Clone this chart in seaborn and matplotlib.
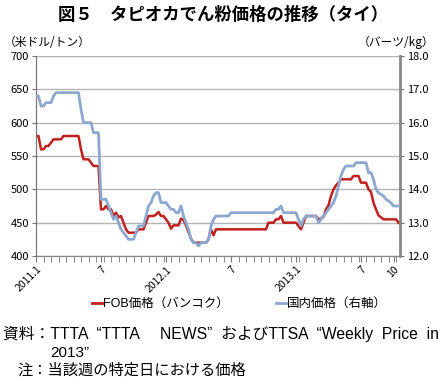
import pandas as pd
import seaborn as sns
import matplotlib.pyplot as plt

# weekly prices, Jan 2011 - Oct 2013
fob_usd = [580, 580, 560, 560, 565, 565, 570, 575, 575, 575,
           575, 580, 580, 580, 580, 580, 580, 580, 560, 545,
           545, 545, 540, 535, 535, 535, 470, 470, 475, 470,
           470, 460, 465, 458, 460, 450, 440, 435, 435, 435,
           435, 440, 440, 440, 450, 460, 460, 460, 462, 466,
           460, 460, 455, 450, 441, 446, 446, 446, 456, 454,
           446, 436, 426, 420, 420, 420, 420, 420, 420, 425,
           440, 431, 440, 440, 440, 440, 440, 440, 440, 440,
           440, 440, 440, 440, 440, 440, 440, 440, 440, 440,
           440, 440, 440, 450, 450, 450, 455, 455, 460, 450,
           450, 450, 450, 450, 450, 445, 440, 450, 460, 460,
           460, 460, 460, 455, 456, 459, 470, 476, 490, 500,
           506, 510, 515, 515, 515, 515, 515, 520, 520, 520,
           510, 510, 510, 500, 496, 480, 470, 461, 458, 455,
           455, 455, 455, 455, 455, 450]
domestic_thb = [16.8, 16.8, 16.5, 16.5, 16.6, 16.6, 16.6, 16.8, 16.9, 16.9,
                16.9, 16.9, 16.9, 16.9, 16.9, 16.9, 16.9, 16.9, 16.4, 16.0,
                16.0, 16.0, 16.0, 15.7, 15.7, 15.7, 13.7, 13.7, 13.7, 13.5,
                13.3, 13.1, 13.2, 13.0, 12.8, 12.7, 12.6, 12.5, 12.5, 12.5,
                12.7, 12.9, 12.9, 12.9, 13.2, 13.5, 13.6, 13.8, 13.9, 13.9,
                13.6, 13.6, 13.6, 13.5, 13.4, 13.4, 13.3, 13.3, 13.5, 13.2,
                13.0, 12.8, 12.5, 12.4, 12.4, 12.3, 12.4, 12.4, 12.4, 12.5,
                12.9, 13.1, 13.2, 13.2, 13.2, 13.2, 13.2, 13.2, 13.3, 13.3,
                13.3, 13.3, 13.3, 13.3, 13.3, 13.3, 13.3, 13.3, 13.3, 13.3,
                13.3, 13.3, 13.3, 13.3, 13.3, 13.3, 13.4, 13.4, 13.5, 13.3,
                13.3, 13.3, 13.3, 13.3, 13.3, 13.1, 12.9, 13.1, 13.2, 13.2,
                13.2, 13.2, 13.2, 13.0, 13.1, 13.2, 13.3, 13.4, 13.5, 13.6,
                13.8, 14.1, 14.4, 14.6, 14.7, 14.7, 14.7, 14.7, 14.8, 14.8,
                14.8, 14.8, 14.8, 14.5, 14.5, 14.3, 14.0, 13.9, 13.85, 13.8,
                13.7, 13.65, 13.6, 13.5, 13.5, 13.5]
tick_weeks = [0, 26, 52, 78, 104, 130, 143]
tick_labels = ["2011.1", "7", "2012.1", "7", "2013.1", "7", "10"]

df = pd.DataFrame({"week": range(len(fob_usd)), "fob": fob_usd, "dom": domestic_thb})

plt.rcParams['font.family'] = ['Noto Sans CJK JP', 'DejaVu Sans']
mixed = ['Liberation Sans', 'Noto Sans CJK JP']  # Arial-like latin, gothic kana/kanji
red = "#C0211F"
blue = "#8DA8CF"

fig = plt.figure(figsize=(4.46, 3.91), dpi=100)
ax = fig.add_axes([36 / 446, 1 - 256 / 391, 364 / 446, 200 / 391])
ax2 = ax.twinx()

sns.lineplot(data=df, x="week", y="fob", ax=ax, color=red, linewidth=1.8, zorder=3)
sns.lineplot(data=df, x="week", y="dom", ax=ax2, color=blue, linewidth=2.0, zorder=3)

ax.set_xlim(0, 145.6)
ax.set_ylim(400, 700)
ax2.set_ylim(12, 18)
ax.set_yticks(range(400, 701, 50))
ax2.set_yticks([12 + i for i in range(7)])
ax2.set_yticklabels([f"{12 + i:.1f}" for i in range(7)])
for a in (ax, ax2):
    a.set_xlabel("")
    a.set_ylabel("")
ax.grid(axis="y", color="#b4b4b4", linewidth=1)
ax.set_axisbelow(True)

ax.set_xticks(list(range(0, 146, 3)), minor=True)
ax.set_xticks(tick_weeks)
ax.set_xticklabels(tick_labels, rotation=45, ha="right", rotation_mode="anchor", fontsize=7.5)
ax.tick_params(axis="x", which="both", length=4, color="#777777", pad=2)
ax.tick_params(axis="y", labelsize=8, length=3, color="#777777", pad=2)
ax2.tick_params(axis="y", labelsize=8, length=3, color="#777777", pad=2)

for a in (ax, ax2):
    a.spines["top"].set_visible(False)
    a.spines["left"].set_color("#777777")
    a.spines["bottom"].set_color("#888888")
    a.spines["right"].set_color("#888888")
ax2.spines["right"].set_linewidth(2)

fig.text(0.5, 1 - 15 / 391, "図５　タピオカでん粉価格の推移（タイ）", ha="center", va="center",
         fontsize=12.5, fontweight="bold")
fig.text(4 / 446, 1 - 42 / 391, "（米ドル/トン）", ha="left", va="center", fontsize=8.5)
fig.text(434 / 446, 1 - 42 / 391, "（バーツ/kg）", ha="right", va="center", fontsize=8.5)

# legend drawn below the plot
lh = [plt.Line2D([], [], color=red, linewidth=2), plt.Line2D([], [], color=blue, linewidth=2)]
fig.legend(lh, ["FOB価格（バンコク）", "国内価格（右軸）"], loc="center", bbox_to_anchor=(0.537, 1 - 304 / 391),
           ncol=2, frameon=False, prop={"family": mixed, "size": 9},
           handlelength=0.8, handletextpad=0.1, columnspacing=3.8)

# source note
fig.text(3 / 446, 1 - 334 / 391, "資料：TTTA  “TTTA　 NEWS”  およびTTSA  “Weekly  Price  in",
         ha="left", va="center", fontsize=11.3, family=mixed)
fig.text(50 / 446, 1 - 353 / 391, "2013”", ha="left", va="center", fontsize=11, family=mixed)
fig.text(17 / 446, 1 - 371 / 391, "注：当該週の特定日における価格", ha="left", va="center", fontsize=11, family=mixed)

fig.savefig("out.png", dpi=100)
